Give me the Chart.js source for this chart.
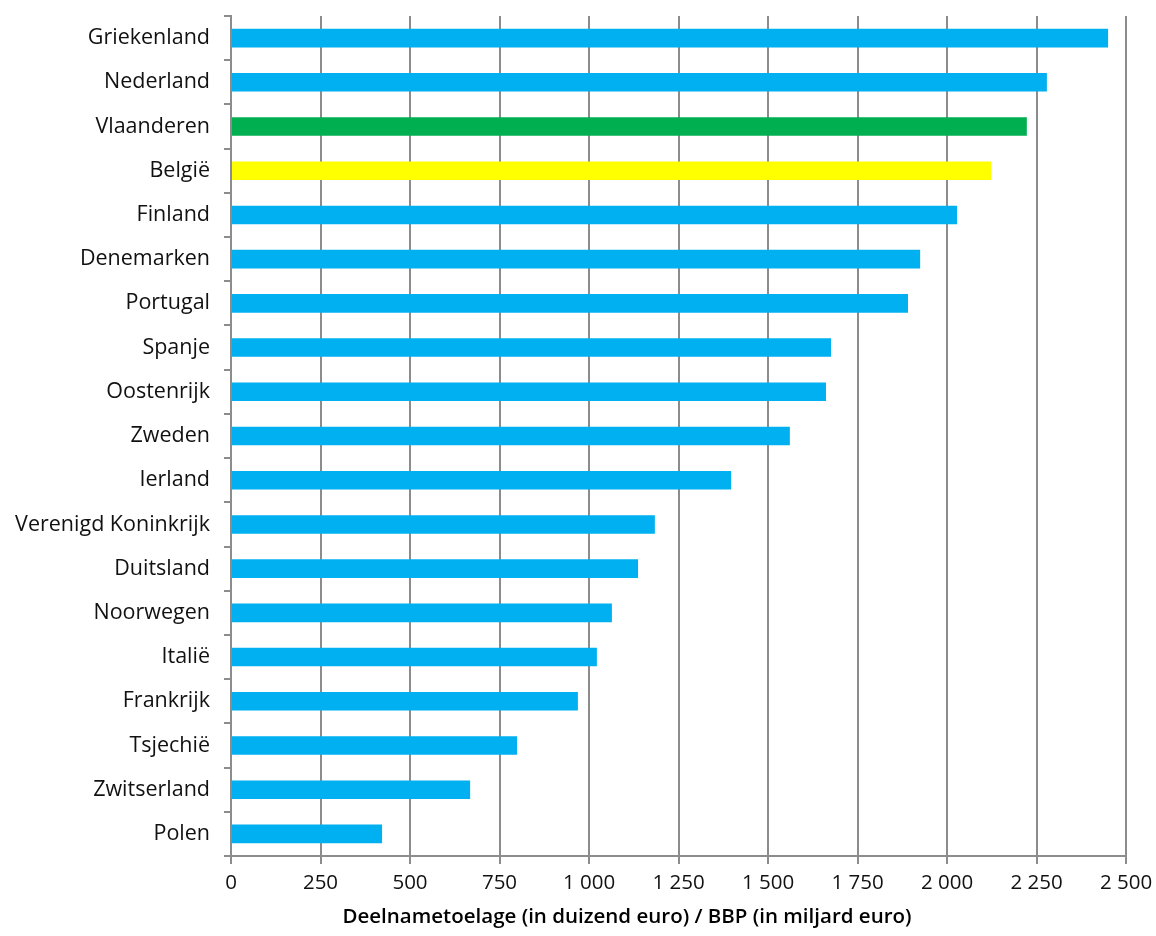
<!DOCTYPE html>
<html>
<head>
<meta charset="utf-8">
<script src="https://cdn.jsdelivr.net/npm/chart.js@4"></script>
<style>
  body { margin: 0; background: #fff; }
  canvas { display: block; }
</style>
</head>
<body>
<canvas id="BarChart" width="1156" height="936"></canvas>
<script>
const countries = [
  "Griekenland", "Nederland", "Vlaanderen", "België", "Finland",
  "Denemarken", "Portugal", "Spanje", "Oostenrijk", "Zweden",
  "Ierland", "Verenigd Koninkrijk", "Duitsland", "Noorwegen", "Italië",
  "Frankrijk", "Tsjechië", "Zwitserland", "Polen",
];
const ratios = [
  2450, 2279, 2223, 2123, 2028,
  1925, 1891, 1676, 1662, 1561,
  1397, 1184, 1137, 1064, 1022,
  969, 799, 668, 422,
];
const xTicks = [0, 250, 500, 750, 1000, 1250, 1500, 1750, 2000, 2250, 2500];
const xTitle = "Deelnametoelage (in duizend euro) / BBP (in miljard euro)";

document.addEventListener("DOMContentLoaded", function () {
  const ctx = document.getElementById("BarChart").getContext("2d");
  const font = "'Open Sans', 'Noto Sans', sans-serif";

  const barColors = countries.map(function (c) {
    if (c === "Vlaanderen") return "#00b050";
    if (c === "België") return "#ffff00";
    return "#00b0f0";
  });

  // x-axis title drawn by hand so it can sit left of the plot centre like the original
  const titlePlugin = {
    id: "xTitle",
    afterDraw(chart) {
      const c = chart.ctx;
      c.save();
      c.font = "600 20.5px " + font;
      c.fillStyle = "#000";
      c.textAlign = "center";
      c.textBaseline = "middle";
      c.fillText(xTitle, 627, 917);
      c.restore();
    },
  };

  new Chart(ctx, {
    type: "bar",
    data: {
      labels: countries,
      datasets: [
        {
          data: ratios,
          backgroundColor: barColors,
          borderWidth: 0,
          categoryPercentage: 1,
          barPercentage: 0.42,
        },
      ],
    },
    options: {
      indexAxis: "y",
      responsive: false,
      animation: false,
      layout: { padding: { top: 16, right: 30, left: 0, bottom: 0 } },
      plugins: {
        legend: { display: false },
        tooltip: { enabled: false },
      },
      scales: {
        x: {
          min: 0,
          max: 2500,
          afterBuildTicks(scale) {
            scale.ticks = xTicks.map(function (v) { return { value: v }; });
          },
          afterFit(scale) {
            scale.height = 80;
            scale.paddingRight = 0;
          },
          grid: {
            color: "#8c8c8c",
            lineWidth: 2,
            tickLength: 8,
            drawTicks: true,
          },
          border: { color: "#8c8c8c", width: 2 },
          ticks: {
            color: "#111",
            font: { family: font, size: 20.5 },
            padding: 7,
            autoSkip: false,
            maxRotation: 0,
            callback: function (v) {
              return String(v).replace(/\B(?=(\d{3})+(?!\d))/g, " ");
            },
          },
        },
        y: {
          afterFit(scale) {
            scale.width = 231;
            scale.paddingTop = 0;
            scale.paddingBottom = 0;
          },
          grid: {
            offset: true,
            drawOnChartArea: false,
            drawTicks: true,
            tickLength: 7,
            color: "#8c8c8c",
            lineWidth: 2,
          },
          border: { color: "#8c8c8c", width: 2 },
          ticks: {
            color: "#111",
            font: { family: font, size: 21.5 },
            padding: 14,
            autoSkip: false,
          },
        },
      },
    },
    plugins: [titlePlugin],
  });
});
</script>
</body>
</html>
